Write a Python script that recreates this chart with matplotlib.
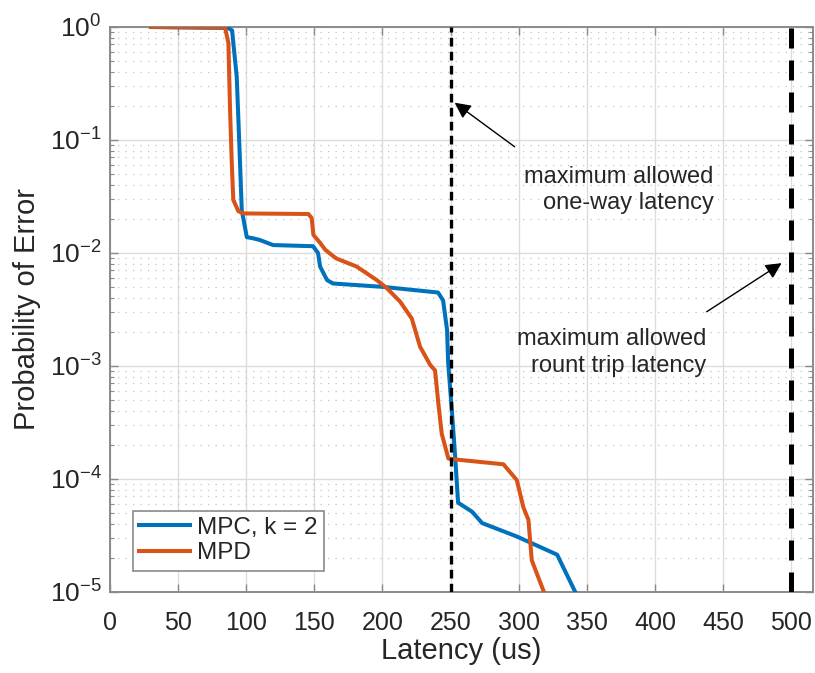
import matplotlib
matplotlib.use("Agg")
import matplotlib.pyplot as plt
from matplotlib.ticker import LogLocator, NullFormatter, MultipleLocator

plt.rcParams['font.family'] = ['Liberation Sans', 'DejaVu Sans']
plt.rcParams['mathtext.fontset'] = 'custom'
plt.rcParams['mathtext.rm'] = 'Liberation Sans'
plt.rcParams['mathtext.it'] = 'Liberation Sans'

# Latency (us) vs. probability of error for the two schemes
mpc_latency = [30, 86.6, 89.6, 93.0, 94.9, 96.7, 100.4, 105, 110, 119.7, 149, 152.7,
               154.2, 159.3, 163.7, 200.4, 240.8, 244.5, 247.4, 248.2, 251.1, 253.5,
               255.5, 265.8, 273.1, 298.8, 328.2, 341.5]
mpc_log_err = [0, -0.009, -0.03, -0.44, -1.03, -1.62, -1.86, -1.87, -1.885, -1.93, -1.94,
               -2.0, -2.12, -2.24, -2.27, -2.30, -2.35, -2.42, -2.68, -2.97, -3.42, -3.83,
               -4.21, -4.29, -4.39, -4.51, -4.67, -5.0]

mpd_latency = [30, 84.4, 86.9, 88.1, 89.3, 90.5, 94.2, 97.9, 145.6, 148, 149.3, 154.2,
               157.9, 164, 166.4, 181, 195.8, 203.1, 212.9, 221.5, 227.6, 235, 238.6, 241,
               243.5, 248.4, 255.7, 288.8, 298.6, 303.4, 307.1, 309.6, 318.5]
mpd_log_err = [0, -0.005, -0.14, -0.73, -1.18, -1.53, -1.63, -1.65, -1.655, -1.69, -1.84,
               -1.91, -1.97, -2.03, -2.05, -2.12, -2.24, -2.31, -2.43, -2.58, -2.83, -2.99,
               -3.04, -3.33, -3.60, -3.82, -3.83, -3.87, -4.01, -4.25, -4.36, -4.72, -5.0]

mpc_err = [10 ** v for v in mpc_log_err]
mpd_err = [10 ** v for v in mpd_log_err]

one_way_limit = 250
round_trip_limit = 500

blue = '#0072BD'
orange = '#D95319'
axis_gray = '#8a8a8a'
text_gray = '#262626'

fig = plt.figure(figsize=(8.15, 6.73), dpi=100)
ax = fig.add_axes([0.135, 0.1204, 0.8625, 0.8395])

ax.plot(mpc_latency, mpc_err, color=blue, lw=2.9, label='MPC, k = 2', zorder=3)
ax.plot(mpd_latency, mpd_err, color=orange, lw=2.9, label='MPD', zorder=4)

ax.axvline(one_way_limit, color='black', lw=2.4, dashes=(2.6, 1.6), zorder=5)
ax.axvline(round_trip_limit, color='black', lw=3.6, dashes=(4.0, 2.4), zorder=5)

ax.set_yscale('log')
ax.set_xlim(0, 516)
ax.set_ylim(1e-5, 1)
ax.xaxis.set_major_locator(MultipleLocator(50))
ax.yaxis.set_major_locator(LogLocator(base=10, numticks=10))
ax.yaxis.set_minor_locator(LogLocator(base=10, subs=range(2, 10), numticks=20))
ax.yaxis.set_minor_formatter(NullFormatter())

ax.grid(True, which='major', color='#dcdcdc', lw=1.0, ls='-')
ax.grid(True, which='minor', axis='y', color='#c4c4c4', lw=0.9, ls=(0, (1, 5)))
ax.set_axisbelow(True)

for s in ax.spines.values():
    s.set_color(axis_gray)
    s.set_linewidth(1.4)
ax.tick_params(which='both', direction='in', top=True, right=True, colors=axis_gray,
               labelcolor=text_gray)
ax.tick_params(axis='x', labelsize=18, pad=14)
ax.tick_params(axis='y', labelsize=19, pad=6)
ax.tick_params(which='major', length=6, width=1.0)
ax.tick_params(which='minor', length=3, width=0.8)

ax.set_xlabel('Latency (us)', fontsize=21, color=text_gray, labelpad=1)
ax.set_ylabel('Probability of Error', fontsize=21, color=text_gray, labelpad=6)

note_style = dict(ha='right', va='center', fontsize=17, color=text_gray,
                  linespacing=1.25, zorder=6)
arrow_style = dict(arrowstyle='-|>', color='black', lw=1.0, mutation_scale=24,
                   shrinkA=0, shrinkB=0)

ax.text(443, 10 ** -1.44, 'maximum allowed\none-way latency', **note_style)
ax.annotate('', xy=(253, 10 ** -0.67), xytext=(297, 10 ** -1.06),
            arrowprops=arrow_style)

ax.text(438, 10 ** -2.88, 'maximum allowed\nrount trip latency', **note_style)
ax.annotate('', xy=(493, 10 ** -2.09), xytext=(438, 10 ** -2.52),
            arrowprops=arrow_style)

leg = ax.legend(loc='lower left', bbox_to_anchor=(0.0325, 0.038), fontsize=17.5,
                frameon=True, fancybox=False, edgecolor='#8a8a8a', framealpha=1,
                handlelength=2.1, handletextpad=0.3, borderpad=0.25, labelspacing=0.15,
                borderaxespad=0)
leg.get_frame().set_linewidth(1.2)
for t in leg.get_texts():
    t.set_color(text_gray)

fig.savefig('out.png', dpi=100)
